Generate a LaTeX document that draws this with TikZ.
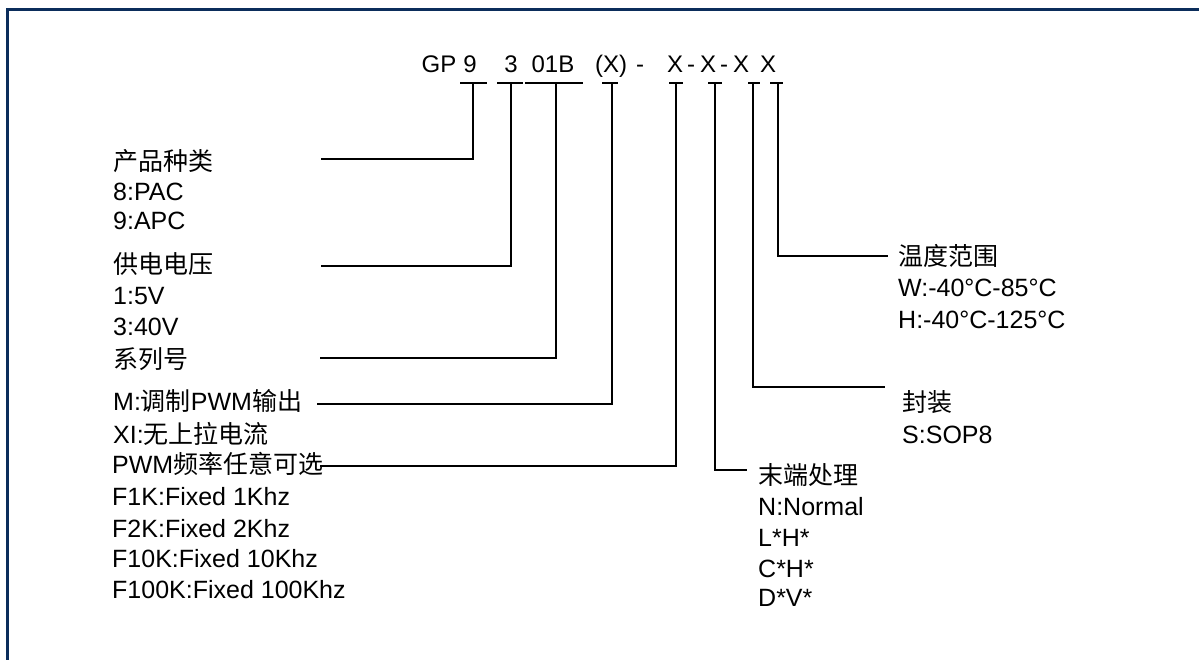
\documentclass[tikz,border=0pt]{standalone}
\usepackage{fontspec}
\setmainfont{Liberation Sans}
\newfontfamily\cjk{Noto Sans CJK SC}
\newcommand\zh[1]{{\cjk #1}}
\definecolor{framenavy}{HTML}{0B2D5B}
\tikzset{
  lbl/.style={anchor=base west, inner sep=0pt, font=\fontsize{25}{30}\selectfont},
  code/.style={anchor=base, inner sep=0pt, font=\fontsize{24}{28}\selectfont},
  lead/.style={line width=1.3pt, black},
}

\begin{document}
\begin{tikzpicture}[x=1pt, y=-1pt]
  \useasboundingbox (0,0) rectangle (1199,660);
  \fill[white] (0,0) rectangle (1199,660);
  % 外枠(上と左のみ)
  \draw[framenavy, line width=3pt] (7.5,660) -- (7.5,9.5) -- (1199,9.5);

  % 型番
  \node[code] (gp)  at (439,73) {GP};
  \node[code] (c9)  at (470,73) {9};
  \node[code] (c3)  at (511,73) {3};
  \node[code] (c01) at (553,73) {01B};
  \node[code] (cx)  at (611,73) {(X)};
  \node[code] (d1)  at (640,73) {-};
  \node[code] (x1)  at (675,73) {X};
  \node[code] (d2)  at (691,73) {-};
  \node[code] (x2)  at (708,73) {X};
  \node[code] (d3)  at (724,73) {-};
  \node[code] (x3)  at (741,73) {X};
  \node[code] (x4)  at (768,73) {X};

  % 下の横棒
  \foreach \a/\b in {460/487, 497/523, 525/583, 602/618, 669/683, 708/722, 748/760, 770/783}
    \draw[lead] (\a,83) -- (\b,83);
  \coordinate (t1) at (473,83);
  \coordinate (t2) at (511,83);
  \coordinate (t3) at (556,83);
  \coordinate (t4) at (612,83);
  \coordinate (t5) at (676,83);
  \coordinate (t6) at (715,83);
  \coordinate (t7) at (753,83);
  \coordinate (t8) at (778,83);

  % 左側の説明
  \node[lbl] (kind)  at (113,171) {\zh{产品种类}};
  \node[lbl] (k8)    at (113,201) {8:PAC};
  \node[lbl] (k9)    at (113,230) {9:APC};
  \node[lbl] (volt)  at (113,274) {\zh{供电电压}};
  \node[lbl] (v1)    at (113,305) {1:5V};
  \node[lbl] (v3)    at (113,335) {3:40V};
  \node[lbl] (ser)   at (113,368) {\zh{系列号}};
  \node[lbl] (modm)  at (113,410) {M:\zh{调制}PWM\zh{输出}};
  \node[lbl] (modxi) at (113,443) {XI:\zh{无上拉电流}};
  \node[lbl] (freq)  at (112,473) {PWM\zh{频率任意可选}};
  \node[lbl] (f1)    at (112,505) {F1K:Fixed 1Khz};
  \node[lbl] (f2)    at (112,537) {F2K:Fixed 2Khz};
  \node[lbl] (f10)   at (112,567) {F10K:Fixed 10Khz};
  \node[lbl] (f100)  at (112,598) {F100K:Fixed 100Khz};

  % 右側の説明
  \node[lbl] (temp)  at (898,266) {\zh{温度范围}};
  \node[lbl] (tw)    at (898,297) {W:-40°C-85°C};
  \node[lbl] (th)    at (898,328) {H:-40°C-125°C};
  \node[lbl] (pkg)   at (902,411) {\zh{封装}};
  \node[lbl] (ps)    at (902,443) {S:SOP8};
  \node[lbl] (term)  at (758,484) {\zh{末端处理}};
  \node[lbl] (tn)    at (758,515) {N:Normal};
  \node[lbl] (tl)    at (758,546) {L*H*};
  \node[lbl] (tc)    at (758,577) {C*H*};
  \node[lbl] (td)    at (758,606) {D*V*};

  % 引き出し線
  \coordinate (e1) at (321,159);
  \coordinate (e2) at (321,266);
  \coordinate (e3) at (320,358);
  \coordinate (e4) at (317,404);
  \coordinate (e5) at (320,466);
  \coordinate (e6) at (747,470);
  \coordinate (e7) at (885,387);
  \coordinate (e8) at (888,256);
  \foreach \i in {1,...,8}
    \draw[lead] (t\i) |- (e\i);
\end{tikzpicture}
\end{document}
